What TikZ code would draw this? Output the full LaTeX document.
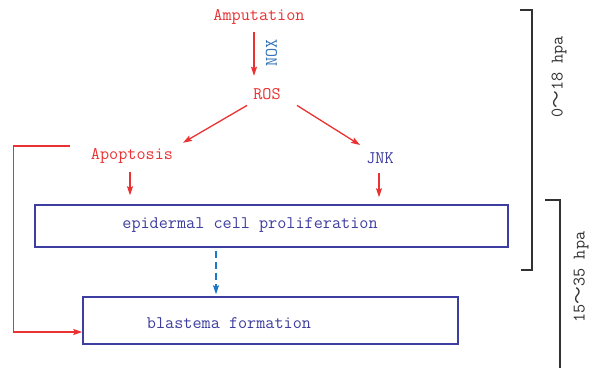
\documentclass[tikz,border=0pt]{standalone}
\usepackage{fontspec}
\newfontfamily\cjk{Noto Sans CJK SC}
\usetikzlibrary{arrows.meta}
\definecolor{myred}{RGB}{234,50,50}
\definecolor{navy}{RGB}{62,62,160}
\definecolor{noxblue}{RGB}{50,115,185}
\definecolor{dashblue}{RGB}{30,120,200}
\definecolor{brk}{RGB}{50,50,50}
\tikzset{
  lbl/.style={inner sep=0pt, anchor=base},
  redtxt/.style={lbl, text=myred},
  bluetxt/.style={lbl, text=navy},
  boxnode/.style={draw=navy, line width=1.5pt, inner sep=0pt},
  redarrow/.style={draw=myred, line width=1.3pt, -{Stealth[length=9pt,width=6pt,inset=1.5pt]}},
  dasharrow/.style={draw=dashblue, line width=1.3pt, dash pattern=on 7pt off 4pt, -{Stealth[length=9pt,width=6pt,inset=1.5pt]}},
  bracketline/.style={draw=brk, line width=1.3pt},
}
\begin{document}
\begin{tikzpicture}[x=1pt,y=-1pt,font=\fontsize{17.7}{20}\selectfont\ttfamily]
\useasboundingbox[fill=white] (0,0) rectangle (596,370);

% text nodes
\node[redtxt] (amp) at (259,20.7) {Amputation};
\node[inner sep=0pt, text=noxblue, rotate=90] (nox) at (271.5,53) {NOX};
\node[redtxt] (ros) at (267,99) {ROS};
\node[redtxt] (apo) at (132,159) {Apoptosis};
\node[bluetxt] (jnk) at (380,163) {JNK};

% boxes
\node[boxnode, minimum width=473pt, minimum height=42pt] (box1) at (271.5,226) {};
\node[bluetxt] (t1) at (250,228.5) {epidermal cell proliferation};
\node[boxnode, minimum width=375pt, minimum height=47pt] (box2) at (270.5,320.5) {};
\node[bluetxt] (t2) at (229,328) {blastema formation};

% arrows
\draw[redarrow] ([xshift=-5pt,yshift=-7.4pt]amp.south) -- ([xshift=-13pt,yshift=12pt]ros.north);
\draw[redarrow] ([xshift=-20pt,yshift=-6pt]ros.south) -- ([xshift=51pt,yshift=5pt]apo.north);
\draw[redarrow] ([xshift=30pt,yshift=-6pt]ros.south) -- ([xshift=-20pt,yshift=7pt]jnk.north);
\draw[redarrow] ([xshift=-2pt,yshift=-9pt]apo.south) -- ([xshift=-141.5pt,yshift=9pt]box1.north);
\draw[redarrow] ([xshift=-1pt,yshift=-10pt]jnk.south) -- ([xshift=107.5pt,yshift=7pt]box1.north);
\draw[dasharrow] ([xshift=-55.5pt,yshift=-3pt]box1.south) -- ([xshift=-54.5pt,yshift=2pt]box2.north);
\draw[redarrow] ([xshift=-21pt,yshift=9.5pt]apo.west) -- ++(-56,0) |- ([yshift=-11.5pt]box2.west);

% brackets
\draw[bracketline] (520,10) -- (532,10) -- (532,270) -- (521,270);
\draw[bracketline] (545,200) -- (560,200) -- (560,368);
\node[inner sep=0pt, text=brk, rotate=90] (h1) at (559,77) {0{\cjk ～}18 hpa};
\node[inner sep=0pt, text=brk, rotate=90] (h2) at (581,277) {15{\cjk ～}35 hpa};
\end{tikzpicture}
\end{document}
